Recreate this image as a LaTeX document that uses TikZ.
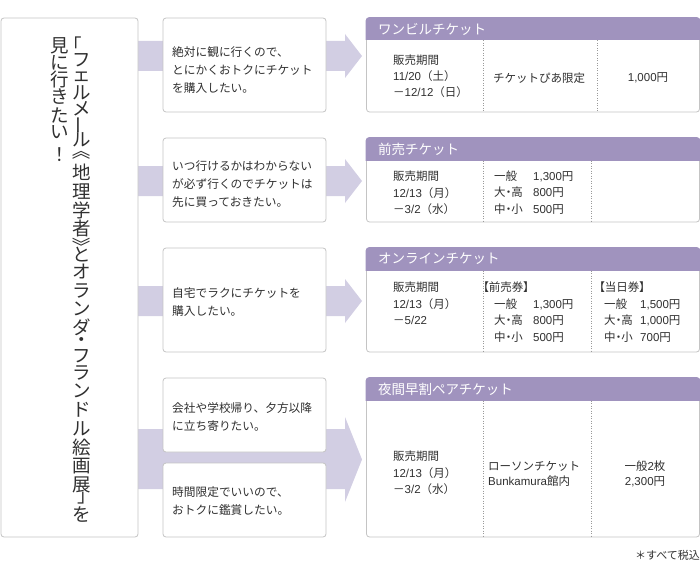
\documentclass[tikz,border=0pt]{standalone}
\usepackage{fontspec}
\setmainfont{Noto Sans CJK JP}
\newfontfamily\lat{Liberation Sans}
\newfontfamily\pfont[RawFeature=+palt]{Noto Sans CJK JP}
\usepackage{graphicx}
\definecolor{hdr}{HTML}{A093BE}
\definecolor{arrowc}{HTML}{D2CEE3}
\definecolor{bordc}{HTML}{C4C4C4}
\definecolor{txtc}{HTML}{303030}
\definecolor{sepc}{HTML}{9A9A9A}
\tikzset{
  box/.style={draw=bordc, fill=white, rounded corners=3pt, line width=0.8pt, inner sep=0pt},
  band/.style={fill=arrowc},
  qtxt/.style={anchor=west, align=left, inner sep=0pt, text=txtc, font=\fontsize{11.7}{18}\selectfont},
  ptxt/.style={anchor=west, align=left, inner sep=0pt, text=txtc, font=\fontsize{11.5}{16.3}\selectfont},
  ctxt/.style={align=center, inner sep=0pt, text=txtc, font=\fontsize{11.5}{15}\selectfont},
  htxt/.style={anchor=west, inner sep=0pt, text=white, font=\fontsize{13.5}{16}\selectfont},
  vch/.style={inner sep=0pt, text=txtc, font=\fontsize{18.5}{18.5}\selectfont},
  sepline/.style={draw=sepc, line width=0.8pt, dash pattern=on 0.9pt off 1.6pt},
}
\newcommand\mypanel[5]{% name, center y, height, top, header bottom
  \node[box, minimum width=333pt, minimum height=#3pt] (#1) at (533,#2) {};
  \begin{scope}
    \clip (360,#4-5) rectangle (705,#5);
    \filldraw[fill=hdr, draw=hdr, line width=0.8pt, rounded corners=3pt] (#1.north west) rectangle (#1.south east);
  \end{scope}}
\newcommand\lab[2]{\makebox[#1][l]{\pfont #2}}
\begin{document}
\begin{tikzpicture}[x=1pt,y=-1pt]
\useasboundingbox (0,0) rectangle (700,564);
% arrow bands
\fill[band] (138,41) -- (345,41) -- (345,34) -- (362,56) -- (345,78) -- (345,71) -- (138,71) -- cycle;
\fill[band] (138,166) -- (345,166) -- (345,159) -- (362,181) -- (345,203) -- (345,196) -- (138,196) -- cycle;
\fill[band] (138,286) -- (345,286) -- (345,279) -- (362,301) -- (345,323) -- (345,316) -- (138,316) -- cycle;
\fill[band] (138,429) -- (345,429) -- (345,417) -- (362,459.5) -- (345,502) -- (345,489) -- (138,489) -- cycle;
% left box
\node[box, minimum width=137pt, minimum height=519pt] (L) at (69.5,277.5) {};
% question boxes
\node[box, minimum width=163pt, minimum height=94pt] (q1) at (244.5,65) {};
\node[box, minimum width=163pt, minimum height=84pt] (q2) at (244.5,180) {};
\node[box, minimum width=163pt, minimum height=104pt] (q3) at (244.5,300) {};
\node[box, minimum width=163pt, minimum height=74pt] (q4) at (244.5,415) {};
\node[box, minimum width=163pt, minimum height=74pt] (q5) at (244.5,500) {};
\node[qtxt] (t1) at (172,70) {絶対に観に行くので、\\とにかくおトクにチケット\\を購入したい。};
\node[qtxt] (t2) at (172,184) {いつ行けるかはわからない\\が必ず行くのでチケットは\\先に買っておきたい。};
\node[qtxt] (t3) at (172,302) {自宅でラクにチケットを\\購入したい。};
\node[qtxt] (t4) at (172,417) {会社や学校帰り、夕方以降\\に立ち寄りたい。};
\node[qtxt] (t5) at (172,501) {時間限定でいいので、\\おトクに鑑賞したい。};
% ticket panels
\mypanel{p1}{65}{94}{18}{40}
\mypanel{p2}{180}{84}{138}{160}
\mypanel{p3}{300}{104}{248}{270}
\mypanel{p4}{457.5}{159}{378}{400}
\node[htxt] (h1) at (378,29) {ワンビルチケット};
\node[htxt] (h2) at (378,149) {前売チケット};
\node[htxt] (h3) at (378,259) {オンラインチケット};
\node[htxt] (h4) at (378,389) {夜間早割ペアチケット};
% dotted separators
\draw[sepline] (483,40.5) -- (483,111.5);
\draw[sepline] (597,40.5) -- (597,111.5);
\draw[sepline] (483,160.5) -- (483,221.5);
\draw[sepline] (591,160.5) -- (591,221.5);
\draw[sepline] (483,270.5) -- (483,351.5);
\draw[sepline] (591,270.5) -- (591,351.5);
\draw[sepline] (483,400.5) -- (483,536.5);
\draw[sepline] (591,400.5) -- (591,536.5);
% panel 1
\node[ptxt] (p1a) at (393,76.25) {販売期間\\{\lat 11/20}（土）\\－{\lat 12/12}（日）};
\node[ctxt] (p1b) at (539,78) {チケットぴあ限定};
\node[ctxt] (p1c) at (648,78) {{\lat 1,000}円};
% panel 2
\node[ptxt] (p2a) at (393,193) {販売期間\\{\lat 12/13}（月）\\－{\lat 3/2}（水）};
\node[ptxt] (p2b) at (494,192.5) {\lab{39pt}{一般}{\lat 1,300}円\\\lab{39pt}{大・高}{\lat 800}円\\\lab{39pt}{中・小}{\lat 500}円};
% panel 3
\node[ptxt] (p3a) at (393,303.5) {販売期間\\{\lat 12/13}（月）\\－{\lat 5/22}};
\node[ptxt, font=\fontsize{11.5}{16.7}\selectfont] (p3b) at (483,312) {{\pfont 【前売券】}\\\hspace*{11pt}\lab{39pt}{一般}{\lat 1,300}円\\\hspace*{11pt}\lab{39pt}{大・高}{\lat 800}円\\\hspace*{11pt}\lab{39pt}{中・小}{\lat 500}円};
\node[ptxt, font=\fontsize{11.5}{16.7}\selectfont] (p3c) at (599,312) {{\pfont 【当日券】}\\\hspace*{5pt}\lab{36pt}{一般}{\lat 1,500}円\\\hspace*{5pt}\lab{36pt}{大・高}{\lat 1,000}円\\\hspace*{5pt}\lab{36pt}{中・小}{\lat 700}円};
% panel 4
\node[ptxt] (p4a) at (393,473) {販売期間\\{\lat 12/13}（月）\\－{\lat 3/2}（水）};
\node[ptxt, font=\fontsize{11.5}{15}\selectfont] (p4b) at (488,473.5) {ローソンチケット\\{\lat Bunkamura}館内};
\node[ctxt] (p4c) at (645,473.5) {一般{\lat 2}枚\\{\lat 2,300}円};
% footnote
\node[anchor=east, inner sep=0pt, text=txtc, font=\fontsize{11}{13}\selectfont] (fn) at (700,555) {＊すべて税込};
% vertical title
\node[vch] (v0) at (73,45) {「};
\foreach \c/\yy [count=\i] in {フ/60, ェ/77, ル/93, メ/109}
  \node[vch] (va\i) at (81.5,\yy) {\c};
\node[vch] (v5) at (81.5,125) {\rotatebox{90}{ー}};
\node[vch] (v6) at (81.5,140) {ル};
\node[vch] (v7) at (81.5,151) {\rotatebox{-90}{《}};
\foreach \c/\yy [count=\i] in {地/172.5, 理/191.5, 学/210, 者/228}
  \node[vch] (vb\i) at (81.5,\yy) {\c};
\node[vch] (v12) at (81.5,247) {\rotatebox{-90}{》}};
\foreach \c/\yy [count=\i] in {と/255, オ/272, ラ/291, ン/309, ダ/327, ・/342, フ/356, ラ/373, ン/391, ド/410, ル/429, 絵/448, 画/466, 展/485}
  \node[vch] (vc\i) at (81.5,\yy) {\c};
\node[vch] (v27) at (87,498) {」};
\node[vch] (v28) at (81.5,515) {を};
\foreach \c/\yy [count=\i] in {見/45.5, に/62.5, 行/79.5, き/96.5, た/115, い/132.5, ！/154.5}
  \node[vch] (vd\i) at (59.5,\yy) {\c};
\end{tikzpicture}
\end{document}
